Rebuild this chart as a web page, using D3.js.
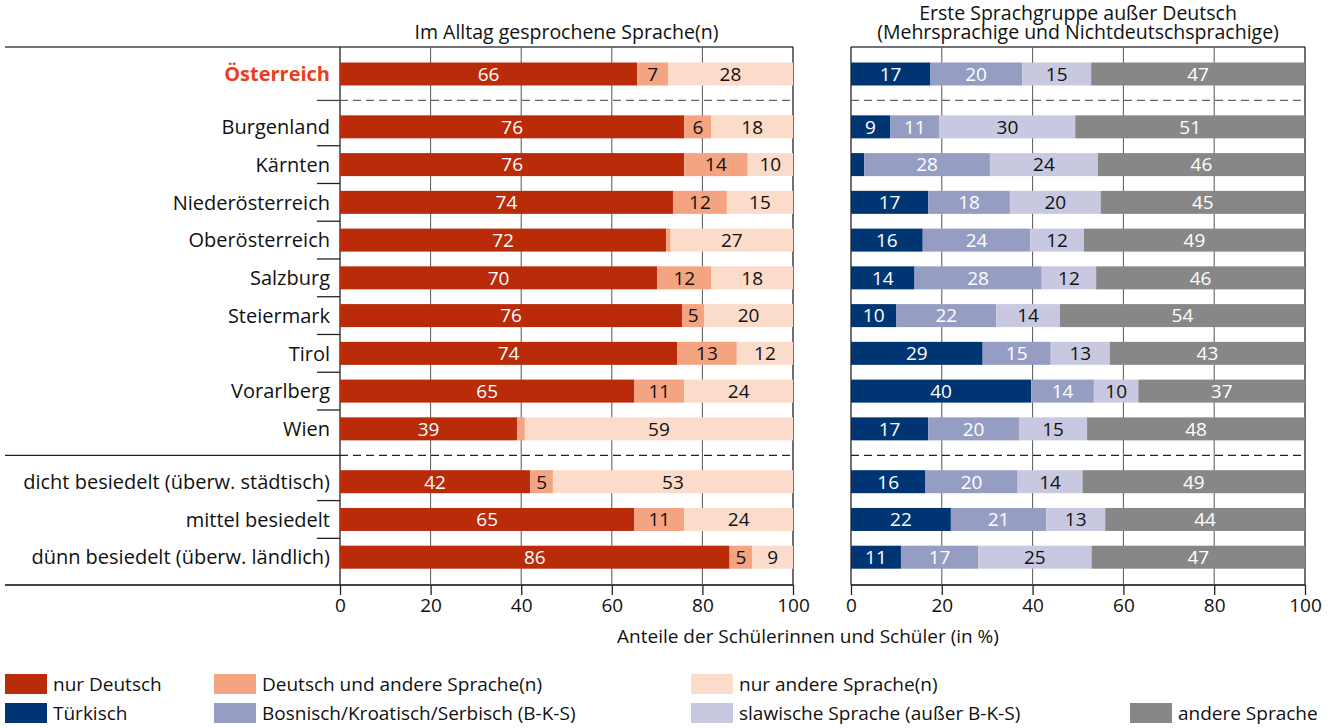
<!DOCTYPE html>
<html>
<head>
<meta charset="utf-8">
<script src="https://cdn.jsdelivr.net/npm/d3@7"></script>
<style>
  body { margin: 0; background: #fff; }
  svg { display: block; font-family: "Open Sans", Lato, sans-serif; }
</style>
</head>
<body>
<div id="chart"></div>
<script>
// rows (Bundesländer + Besiedelung)
const regions = ["Österreich", "Burgenland", "Kärnten", "Niederösterreich", "Oberösterreich",
  "Salzburg", "Steiermark", "Tirol", "Vorarlberg", "Wien",
  "dicht besiedelt (überw. städtisch)", "mittel besiedelt", "dünn besiedelt (überw. ländlich)"];

// left panel: Im Alltag gesprochene Sprache(n)
const nurDeutsch      = [65.6, 76, 76, 73.5, 72, 70, 75.5, 74.4, 65, 39.1, 42, 65, 86];
const deutschUndAndere = [6.8, 6, 14, 11.9, 1, 12, 4.9, 13.2, 11, 1.7, 5, 11, 5];
const nurAndere       = [27.6, 18, 10, 14.6, 27, 18, 19.6, 12.4, 24, 59.2, 53, 24, 9];

// right panel: Erste Sprachgruppe außer Deutsch
const tuerkisch  = [17.4, 8.6, 2.9, 17, 15.8, 14, 10, 29, 39.7, 17, 16.4, 22, 11];
const bks        = [20.3, 10.9, 27.7, 18, 23.7, 28, 22, 15, 13.8, 20, 20.3, 21, 17];
const slawisch   = [15.2, 29.9, 23.8, 20, 11.8, 12, 14, 13, 9.8, 15, 14.3, 13, 25];
const andere     = [47.1, 50.6, 45.6, 45, 48.7, 46, 54, 43, 36.7, 48, 49.0, 44, 47];

const xTicks = [0, 20, 40, 60, 80, 100];

const leftSeries = [
  { name: "nur Deutsch", values: nurDeutsch, color: "#b92b09", text: "#fff" },
  { name: "Deutsch und andere Sprache(n)", values: deutschUndAndere, color: "#f4a481", text: "#111" },
  { name: "nur andere Sprache(n)", values: nurAndere, color: "#fbdccb", text: "#111" }
];
const rightSeries = [
  { name: "Türkisch", values: tuerkisch, color: "#003574", text: "#fff" },
  { name: "Bosnisch/Kroatisch/Serbisch (B-K-S)", values: bks, color: "#959dc2", text: "#fff" },
  { name: "slawische Sprache (außer B-K-S)", values: slawisch, color: "#c8c9e1", text: "#111" },
  { name: "andere Sprache", values: andere, color: "#878787", text: "#fff" }
];

const W = 1333, H = 728;
const yTop = 47, yBottom = 585;
const slots = [0, 1.4, 2.4, 3.4, 4.4, 5.4, 6.4, 7.4, 8.4, 9.4, 10.8, 11.8, 12.8];
const y = d3.scaleLinear().domain([0, 1]).range([74, 74 + 37.75]);
const barH = 23;

const svg = d3.select("#chart").append("svg")
  .attr("width", W)
  .attr("height", H);

const xL = d3.scaleLinear().domain([0, 100]).range([340, 793]);
const xR = d3.scaleLinear().domain([0, 100]).range([851, 1305]);

// horizontal frame lines
svg.append("line").attr("x1", 5).attr("x2", 793).attr("y1", yTop).attr("y2", yTop)
  .attr("stroke", "#444").attr("stroke-width", 1.5);
svg.append("line").attr("x1", 851).attr("x2", 1305).attr("y1", yTop).attr("y2", yTop)
  .attr("stroke", "#444").attr("stroke-width", 1.5);
svg.append("line").attr("x1", 5).attr("x2", 793).attr("y1", yBottom).attr("y2", yBottom)
  .attr("stroke", "#444").attr("stroke-width", 2);
svg.append("line").attr("x1", 851).attr("x2", 1305).attr("y1", yBottom).attr("y2", yBottom)
  .attr("stroke", "#444").attr("stroke-width", 2);

function panel(x, series) {
  const g = svg.append("g");

  // grid
  g.selectAll(".grid").data(xTicks).enter().append("line")
    .attr("x1", d => x(d)).attr("x2", d => x(d))
    .attr("y1", yTop).attr("y2", yBottom)
    .attr("stroke", d => (d === 0 || d === 100) ? "#222" : "#555")
    .attr("stroke-width", d => (d === 0 || d === 100) ? 1.3 : 1);

  // separators
  const sepTop = y((slots[0] + slots[1]) / 2);
  const sepBot = y((slots[9] + slots[10]) / 2);
  g.append("line").attr("x1", x(0)).attr("x2", x(100)).attr("y1", sepTop).attr("y2", sepTop)
    .attr("stroke", "#666").attr("stroke-width", 1.3).attr("stroke-dasharray", "8,5");
  g.append("line").attr("x1", x(0)).attr("x2", x(100)).attr("y1", sepBot).attr("y2", sepBot)
    .attr("stroke", "#222").attr("stroke-width", 1.3).attr("stroke-dasharray", "8,5");

  // stacked bars
  const rows = regions.map((r, i) => {
    let acc = 0;
    return series.map(s => {
      const seg = { row: i, x0: acc, v: s.values[i], color: s.color, text: s.text };
      acc += s.values[i];
      return seg;
    });
  }).flat();

  g.selectAll("rect.seg").data(rows).enter().append("rect")
    .attr("class", "seg")
    .attr("x", d => x(d.x0))
    .attr("width", d => x(d.x0 + d.v) - x(d.x0))
    .attr("y", d => y(slots[d.row]) - barH / 2)
    .attr("height", barH)
    .attr("fill", d => d.color);

  g.selectAll("text.val").data(rows.filter(d => d.v >= 4)).enter().append("text")
    .attr("class", "val")
    .attr("x", d => x(d.x0 + d.v / 2))
    .attr("y", d => y(slots[d.row]))
    .attr("dy", "0.36em")
    .attr("text-anchor", "middle")
    .attr("font-size", 19)
    .attr("fill", d => d.text)
    .text(d => Math.round(d.v));

  // x axis
  const ax = g.append("g")
    .attr("transform", `translate(0,${yBottom})`)
    .call(d3.axisBottom(x).tickValues(xTicks).tickSize(10).tickPadding(4).tickSizeOuter(0));
  ax.select(".domain").remove();
  ax.selectAll(".tick line").attr("stroke", "#222").attr("stroke-width", 1.3);
  ax.selectAll(".tick text").attr("font-size", 19).attr("fill", "#111")
    .attr("font-family", "'Open Sans', sans-serif");
}

panel(xL, leftSeries);
panel(xR, rightSeries);

// row labels
svg.selectAll("text.row").data(regions).enter().append("text")
  .attr("class", "row")
  .attr("x", 330)
  .attr("y", (d, i) => y(slots[i]))
  .attr("dy", "0.36em")
  .attr("text-anchor", "end")
  .attr("font-size", 20)
  .attr("font-weight", (d, i) => i === 0 ? "bold" : "normal")
  .attr("fill", (d, i) => i === 0 ? "#e8401c" : "#111")
  .text(d => d);

// row ticks on the label side
const tickRows = [1, 2, 3, 4, 5, 6, 7, 8, 10, 11];
svg.selectAll("line.rtick").data(tickRows).enter().append("line")
  .attr("x1", 317).attr("x2", 340)
  .attr("y1", i => y((slots[i] + slots[i + 1]) / 2))
  .attr("y2", i => y((slots[i] + slots[i + 1]) / 2))
  .attr("stroke", "#222").attr("stroke-width", 1.3);
const sTop = y((slots[0] + slots[1]) / 2);
svg.append("line").attr("x1", 317).attr("x2", 340).attr("y1", sTop).attr("y2", sTop)
  .attr("stroke", "#444").attr("stroke-width", 1.3);
const sBot = y((slots[9] + slots[10]) / 2);
svg.append("line").attr("x1", 5).attr("x2", 340).attr("y1", sBot).attr("y2", sBot)
  .attr("stroke", "#222").attr("stroke-width", 1.3);

// titles
svg.append("text").attr("x", xL(50)).attr("y", 39).attr("text-anchor", "middle")
  .attr("font-size", 19.5).attr("fill", "#111").text("Im Alltag gesprochene Sprache(n)");
const rt = svg.append("text").attr("text-anchor", "middle")
  .attr("font-size", 19.5).attr("fill", "#111");
rt.append("tspan").attr("x", xR(50)).attr("y", 20).text("Erste Sprachgruppe außer Deutsch");
rt.append("tspan").attr("x", xR(50)).attr("y", 39).text("(Mehrsprachige und Nichtdeutschsprachige)");

svg.append("text").attr("x", 808).attr("y", 643).attr("text-anchor", "middle")
  .attr("font-size", 19).attr("fill", "#111").text("Anteile der Schülerinnen und Schüler (in %)");

// legend
const legendItems = [
  { s: leftSeries[0], x: 5, y: 684 }, { s: leftSeries[1], x: 214, y: 684 }, { s: leftSeries[2], x: 691, y: 684 },
  { s: rightSeries[0], x: 5, y: 713 }, { s: rightSeries[1], x: 214, y: 713 }, { s: rightSeries[2], x: 691, y: 713 },
  { s: rightSeries[3], x: 1130, y: 713 }
];
const lg = svg.selectAll("g.leg").data(legendItems).enter().append("g")
  .attr("transform", d => `translate(${d.x},${d.y})`);
lg.append("rect").attr("x", 0).attr("y", -10).attr("width", 42).attr("height", 20)
  .attr("fill", d => d.s.color);
lg.append("text").attr("x", 48).attr("dy", "0.36em").attr("font-size", 19).attr("fill", "#111")
  .text(d => d.s.name);
</script>
</body>
</html>
